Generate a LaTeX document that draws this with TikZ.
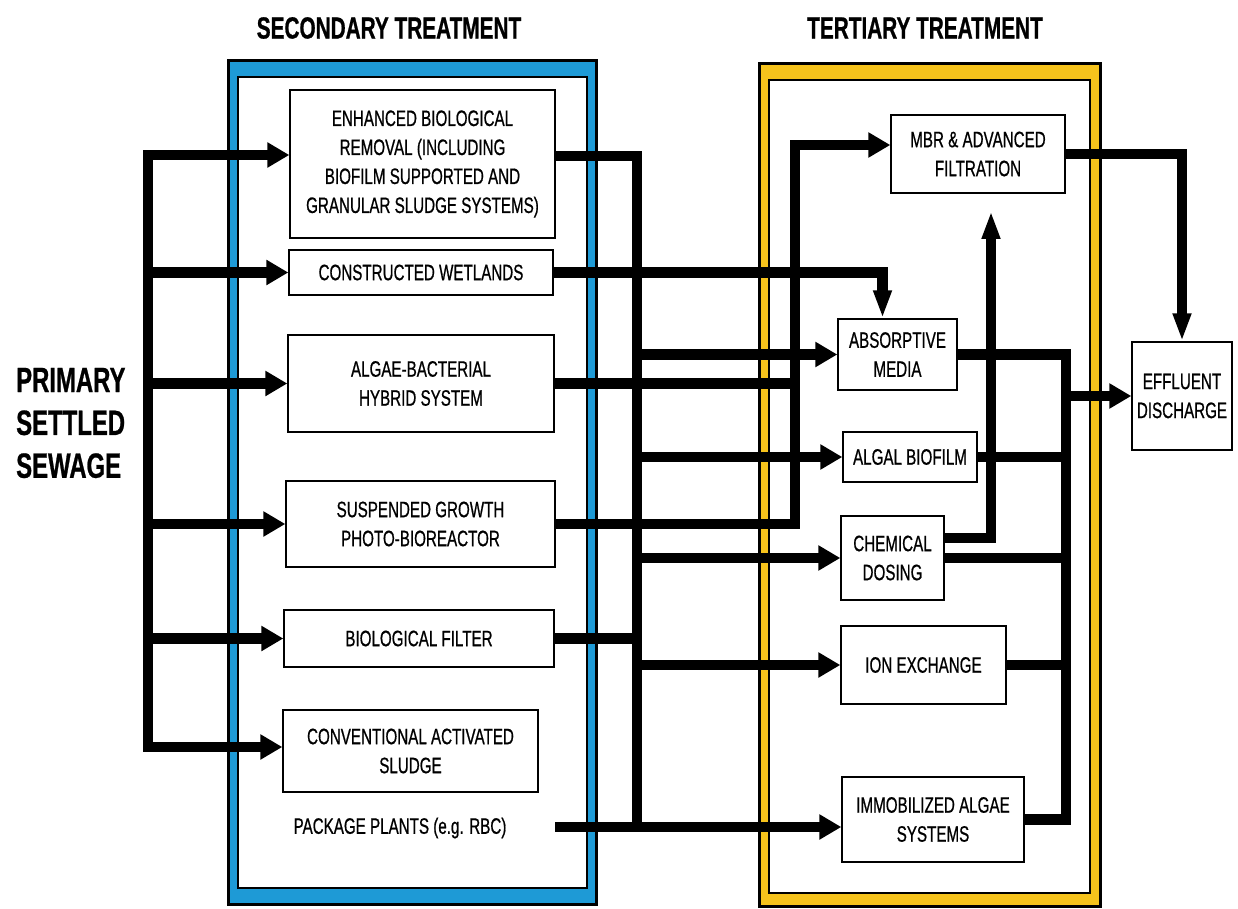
\documentclass[tikz,border=0pt]{standalone}
\usepackage{fontspec}
\setmainfont{Liberation Sans}[FakeStretch=0.68,FakeBold=0.7]
\usetikzlibrary{arrows.meta}
\definecolor{sblue}{HTML}{1E9AD6}
\definecolor{tyellow}{HTML}{F6C31C}
\newcommand{\boxfont}{\fontsize{12.7}{16.5}\selectfont}
\newcommand{\headfont}{\fontsize{17.4}{20}\selectfont\bfseries}
\newcommand{\inletfont}{\fontsize{20}{24.4}\selectfont\bfseries}
\tikzset{
  sbox/.style={draw=black,fill=white,line width=0.8pt,align=center,font=\boxfont,inner sep=2pt},
  flow/.style={line width=0.21cm,draw=black},
  harr/.style={flow,-{Triangle[length=0.44cm,width=0.48cm]}},
  barr/.style={flow,{Triangle[length=0.44cm,width=0.48cm]}-{Triangle[length=0.44cm,width=0.48cm]}},
  varr/.style={flow,-{Triangle[length=0.56cm,width=0.34cm]}},
  outerframe/.style={draw=black,line width=0.06cm},
  innerframe/.style={draw=black,fill=white,line width=0.6pt},
}
\begin{document}
\begin{tikzpicture}[x=0.02cm,y=-0.02cm]
  \useasboundingbox (0,0) rectangle (1238,909);
  % stage frames
  \draw[outerframe,fill=sblue] (228,61) rectangle (596,904);
  \draw[innerframe] (238,77) rectangle (587,888);
  \draw[outerframe,fill=tyellow] (759,64) rectangle (1100,906);
  \draw[innerframe] (769,80) rectangle (1090,893);

  \node[font=\headfont] (sechead) at (389,28) {SECONDARY TREATMENT};
  \node[font=\headfont] (terhead) at (925,28) {TERTIARY TREATMENT};
  \node[font=\inletfont,align=left,anchor=west] (inlet) at (10,423) {PRIMARY\\SETTLED\\SEWAGE};

  % secondary treatment
  \node[sbox,minimum width=5.3cm,minimum height=2.96cm] (enh) at (422.5,164) {ENHANCED BIOLOGICAL\\REMOVAL (INCLUDING\\BIOFILM SUPPORTED AND\\GRANULAR SLUDGE SYSTEMS)};
  \node[sbox,minimum width=5.28cm,minimum height=0.9cm] (wet) at (421,272.5) {CONSTRUCTED WETLANDS};
  \node[sbox,minimum width=5.32cm,minimum height=1.94cm] (alg) at (421,383.5) {ALGAE-BACTERIAL\\HYBRID SYSTEM};
  \node[sbox,minimum width=5.38cm,minimum height=1.72cm] (susp) at (420.5,524) {SUSPENDED GROWTH\\PHOTO-BIOREACTOR};
  \node[sbox,minimum width=5.4cm,minimum height=1.14cm] (bio) at (419,638.5) {BIOLOGICAL FILTER};
  \node[sbox,minimum width=5.1cm,minimum height=1.64cm] (cas) at (410.5,751) {CONVENTIONAL ACTIVATED\\SLUDGE};
  \node[font=\boxfont] (pkg) at (400,828) {PACKAGE PLANTS (e.g. RBC)};

  % tertiary treatment
  \node[sbox,minimum width=3.48cm,minimum height=1.56cm] (mbr) at (978,154) {MBR \& ADVANCED\\FILTRATION};
  \node[sbox,minimum width=2.38cm,minimum height=1.42cm] (abs) at (897.5,354.5) {ABSORPTIVE\\MEDIA};
  \node[sbox,minimum width=2.68cm,minimum height=1.0cm] (agb) at (910,457) {ALGAL BIOFILM};
  \node[sbox,minimum width=2.06cm,minimum height=1.68cm] (chem) at (892.5,558) {CHEMICAL\\DOSING};
  \node[sbox,minimum width=3.3cm,minimum height=1.56cm] (ion) at (923.5,665) {ION EXCHANGE};
  \node[sbox,minimum width=3.64cm,minimum height=1.7cm] (imm) at (933,819.5) {IMMOBILIZED ALGAE\\SYSTEMS};
  \node[sbox,minimum width=2.0cm,minimum height=2.16cm] (eff) at (1182,396) {EFFLUENT\\DISCHARGE};

  % junction points
  \coordinate (t1) at (148,155);
  \coordinate (t6) at (148,747);
  \coordinate (ja) at (637,156);
  \coordinate (jb) at (637,827);
  \coordinate (jc) at (795,145);
  \coordinate (je) at (1066,819.5);
  \coordinate (jf) at (991,211);
  \coordinate (pkout) at (555,827);

  % primary sewage into secondary
  \draw[barr] (t1 -| enh.west) -- (t1) -- (t6) -- (t6 -| cas.west);
  \foreach \nd in {wet,alg,susp,bio}
    \draw[harr] (\nd.west -| t1) -- (\nd.west);

  % secondary into tertiary
  \draw[flow] (enh.east |- ja) -- (ja) -- (jb);
  \draw[harr] (pkout) -- (pkout -| imm.west);
  \draw[flow] (bio.east) -- (bio.east -| ja);
  \foreach \nd in {abs,agb,chem,ion}
    \draw[harr] (\nd.west -| ja) -- (\nd.west);
  \draw[varr] (wet.east) -| ([xshift=-0.3cm]abs.north);
  \draw[harr] (susp.east) -| (jc) -- (jc -| mbr.west);
  \draw[flow] (alg.east) -- (alg.east -| jc);

  % tertiary to discharge
  \draw[flow] (abs.east) -| (je) -- (imm.east);
  \foreach \nd in {agb,chem,ion}
    \draw[flow] (\nd.east) -- (\nd.east -| je);
  \draw[varr] ([yshift=0.4cm]chem.east) -| (jf);
  \draw[harr] (eff.west -| je) -- (eff.west);
  \draw[varr] (mbr.east) -| (eff.north);
\end{tikzpicture}
\end{document}
